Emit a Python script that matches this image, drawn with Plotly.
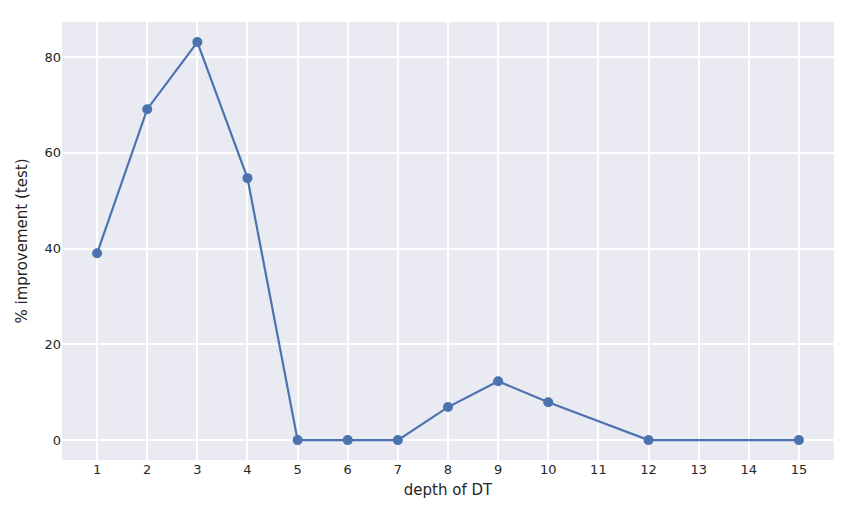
import plotly.graph_objects as go

depth = [1, 2, 3, 4, 5, 6, 7, 8, 9, 10, 12, 15]
improvement = [39.0, 69.1, 83.1, 54.7, 0.0, 0.0, 0.0, 6.9, 12.3, 7.9, 0.0, 0.0]
x_ticks = list(range(1, 16))
y_ticks = [0, 20, 40, 60, 80]

fig = go.Figure()
fig.add_trace(go.Scatter(
    x=depth, y=improvement, mode="lines+markers",
    line=dict(color="#4c72b0", width=2.2),
    marker=dict(color="#4c72b0", size=10),
    showlegend=False,
))

font = dict(family="DejaVu Sans", color="#262626")
fig.update_layout(
    width=851, height=510,
    margin=dict(l=62, r=17, t=22, b=50),
    paper_bgcolor="white", plot_bgcolor="#eaeaf2",
    font=dict(family="DejaVu Sans", size=13, color="#262626"),
)
fig.update_xaxes(
    range=[0.3, 15.7], tickvals=x_ticks, ticktext=[str(v) for v in x_ticks],
    showgrid=True, gridcolor="white", gridwidth=1.5, zeroline=False,
    showline=False, ticks="", tickfont=dict(size=13, **font),
    title=dict(text="depth of DT", font=dict(size=15, **font), standoff=8),
)
fig.update_yaxes(
    range=[-4.15, 87.3], tickvals=y_ticks, ticktext=[str(v) for v in y_ticks],
    showgrid=True, gridcolor="white", gridwidth=1.5, zeroline=False,
    showline=False, ticks="", tickfont=dict(size=13, **font),
    title=dict(text="% improvement (test)", font=dict(size=15, **font), standoff=13),
)

fig.write_html("out.html")
